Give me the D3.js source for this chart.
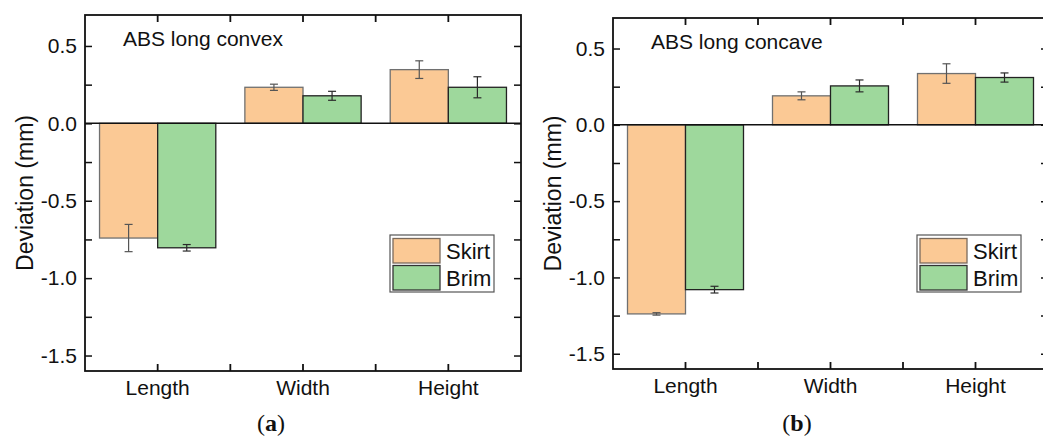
<!DOCTYPE html>
<html>
<head>
<meta charset="utf-8">
<script src="https://cdn.jsdelivr.net/npm/d3@7"></script>
<style>
  body { margin: 0; background: #fff; }
  text { font-family: "Liberation Sans", Arial, sans-serif; fill: #111; }
</style>
</head>
<body>
<div id="chart"></div>
<script>
var W = 1043, H = 436;

// data
var categories = ["Length", "Width", "Height"];
var seriesNames = ["Skirt", "Brim"];
var seriesFill = ["#fbc995", "#9ed89c"];
var seriesStroke = ["#707070", "#222222"];

var convexSkirt = [-0.741, 0.233, 0.347];
var convexSkirtErr = [0.088, 0.02, 0.057];
var convexBrim = [-0.804, 0.178, 0.233];
var convexBrimErr = [0.021, 0.029, 0.068];

var concaveSkirt = [-1.239, 0.19, 0.336];
var concaveSkirtErr = [0.008, 0.026, 0.064];
var concaveBrim = [-1.08, 0.255, 0.31];
var concaveBrimErr = [0.022, 0.039, 0.03];

var yMajor = [-1.5, -1.0, -0.5, 0.0, 0.5];
var yMinor = [-1.5, -1.25, -1.0, -0.75, -0.5, -0.25, 0, 0.25, 0.5];
var yDomain = [-1.6, 0.7];

var svg = d3.select("#chart").append("svg")
    .attr("width", W).attr("height", H)
    .attr("viewBox", [0, 0, W, H]);

function drawPanel(p) {
    var x = d3.scaleBand().domain(categories).range([p.left, p.right]).padding(0);
    var xs = d3.scaleBand().domain(seriesNames).range([0, x.bandwidth()])
        .paddingInner(0).paddingOuter(0.25);
    var y = d3.scaleLinear().domain(yDomain).range([p.bottom, p.top]);

    var g = svg.append("g");

    var rows = [];
    categories.forEach(function (c, i) {
        seriesNames.forEach(function (s, j) {
            rows.push({cat: c, s: s, j: j, v: p.values[j][i], e: p.errors[j][i]});
        });
    });

    // bars
    g.selectAll("rect.bar").data(rows).join("rect")
        .attr("class", "bar")
        .attr("x", d => x(d.cat) + xs(d.s))
        .attr("width", xs.bandwidth())
        .attr("y", d => y(Math.max(0, d.v)))
        .attr("height", d => Math.abs(y(d.v) - y(0)))
        .attr("fill", d => seriesFill[d.j])
        .attr("stroke", d => seriesStroke[d.j])
        .attr("stroke-width", 1.3);

    // error bars
    var eb = g.selectAll("g.err").data(rows).join("g")
        .attr("class", "err")
        .attr("stroke", d => d.j == 0 ? "#555" : "#2a2a2a")
        .attr("stroke-width", 1.2);
    var cx = d => x(d.cat) + xs(d.s) + xs.bandwidth() / 2;
    eb.append("line")
        .attr("x1", cx).attr("x2", cx)
        .attr("y1", d => y(d.v - d.e)).attr("y2", d => y(d.v + d.e));
    eb.append("line")
        .attr("x1", d => cx(d) - 4).attr("x2", d => cx(d) + 4)
        .attr("y1", d => y(d.v - d.e)).attr("y2", d => y(d.v - d.e));
    eb.append("line")
        .attr("x1", d => cx(d) - 4).attr("x2", d => cx(d) + 4)
        .attr("y1", d => y(d.v + d.e)).attr("y2", d => y(d.v + d.e));

    // zero line
    g.append("line")
        .attr("x1", p.left).attr("x2", p.right)
        .attr("y1", y(0)).attr("y2", y(0))
        .attr("stroke", "#111").attr("stroke-width", 1.5);

    // y axis left (inward ticks)
    var yAxisL = g.append("g")
        .attr("transform", `translate(${p.left},0)`)
        .call(d3.axisLeft(y).tickValues(yMinor).tickSizeInner(-7).tickSizeOuter(0).tickPadding(8)
            .tickFormat(d => yMajor.indexOf(d) >= 0 ? d.toFixed(1) : ""));
    yAxisL.select(".domain").remove();
    yAxisL.selectAll("line").attr("stroke", "#111").attr("stroke-width", 1.5);
    yAxisL.selectAll("text").style("font-size", "21px").attr("fill", "#111")
        .style("font-family", "'Liberation Sans', Arial, sans-serif");

    var yAxisR = g.append("g")
        .attr("transform", `translate(${p.right},0)`)
        .call(d3.axisRight(y).tickValues(yMinor).tickSizeInner(-7).tickSizeOuter(0).tickFormat(""));
    yAxisR.select(".domain").remove();
    yAxisR.selectAll("line").attr("stroke", "#111").attr("stroke-width", 1.5);

    // x axes: ticks at category centres and band borders
    var xTickPos = [];
    categories.forEach(function (c, i) {
        if (i > 0) xTickPos.push(x(c));
        xTickPos.push(x(c) + x.bandwidth() / 2);
    });
    [[p.bottom, -7], [p.top, 7]].forEach(function (a) {
        g.selectAll(null).data(xTickPos).join("line")
            .attr("x1", d => d).attr("x2", d => d)
            .attr("y1", a[0]).attr("y2", a[0] + a[1])
            .attr("stroke", "#111").attr("stroke-width", 1.8);
    });
    g.selectAll("text.xl").data(categories).join("text")
        .attr("class", "xl")
        .attr("x", d => x(d) + x.bandwidth() / 2)
        .attr("y", p.bottom + 24)
        .attr("text-anchor", "middle")
        .style("font-size", "21px")
        .text(d => d);

    // frame
    g.append("rect")
        .attr("x", p.left).attr("y", p.top)
        .attr("width", p.right - p.left).attr("height", p.bottom - p.top)
        .attr("fill", "none").attr("stroke", "#111").attr("stroke-width", 1.8);

    // y title
    g.append("text")
        .attr("transform", `translate(${p.left - 52},${(p.top + p.bottom) / 2}) rotate(-90)`)
        .attr("text-anchor", "middle")
        .style("font-size", "23px")
        .text("Deviation (mm)");

    // panel caption inside
    g.append("text")
        .attr("x", p.left + 38).attr("y", p.top + 31)
        .style("font-size", "21px")
        .text(p.title);

    // legend
    var lx = p.right - 131, ly = 235;
    g.append("rect")
        .attr("x", lx).attr("y", ly).attr("width", 104).attr("height", 57)
        .attr("fill", "#fff").attr("stroke", "#555").attr("stroke-width", 1.2);
    seriesNames.forEach(function (s, j) {
        g.append("rect")
            .attr("x", lx + 3).attr("y", ly + 3.5 + j * 27)
            .attr("width", 47).attr("height", 24.5)
            .attr("fill", seriesFill[j])
            .attr("stroke", j == 0 ? "#7a6a5c" : "#333").attr("stroke-width", 1.3);
        g.append("text")
            .attr("x", lx + 56).attr("y", ly + 24 + j * 27)
            .style("font-size", "22px")
            .text(s);
    });

    // sub-figure label
    var lab = svg.append("text")
        .attr("x", p.capX).attr("y", 431)
        .attr("text-anchor", "middle")
        .style("font-family", "'Liberation Serif', 'Times New Roman', serif")
        .style("font-size", "24px");
    lab.append("tspan").text("(");
    lab.append("tspan").style("font-weight", "bold").text(p.cap);
    lab.append("tspan").text(")");
}

drawPanel({left: 85, right: 521, top: 15, bottom: 371, title: "ABS long convex",
    values: [convexSkirt, convexBrim], errors: [convexSkirtErr, convexBrimErr],
    cap: "a", capX: 271});
drawPanel({left: 613, right: 1048, top: 18, bottom: 369, title: "ABS long concave",
    values: [concaveSkirt, concaveBrim], errors: [concaveSkirtErr, concaveBrimErr],
    cap: "b", capX: 797});
</script>
</body>
</html>
